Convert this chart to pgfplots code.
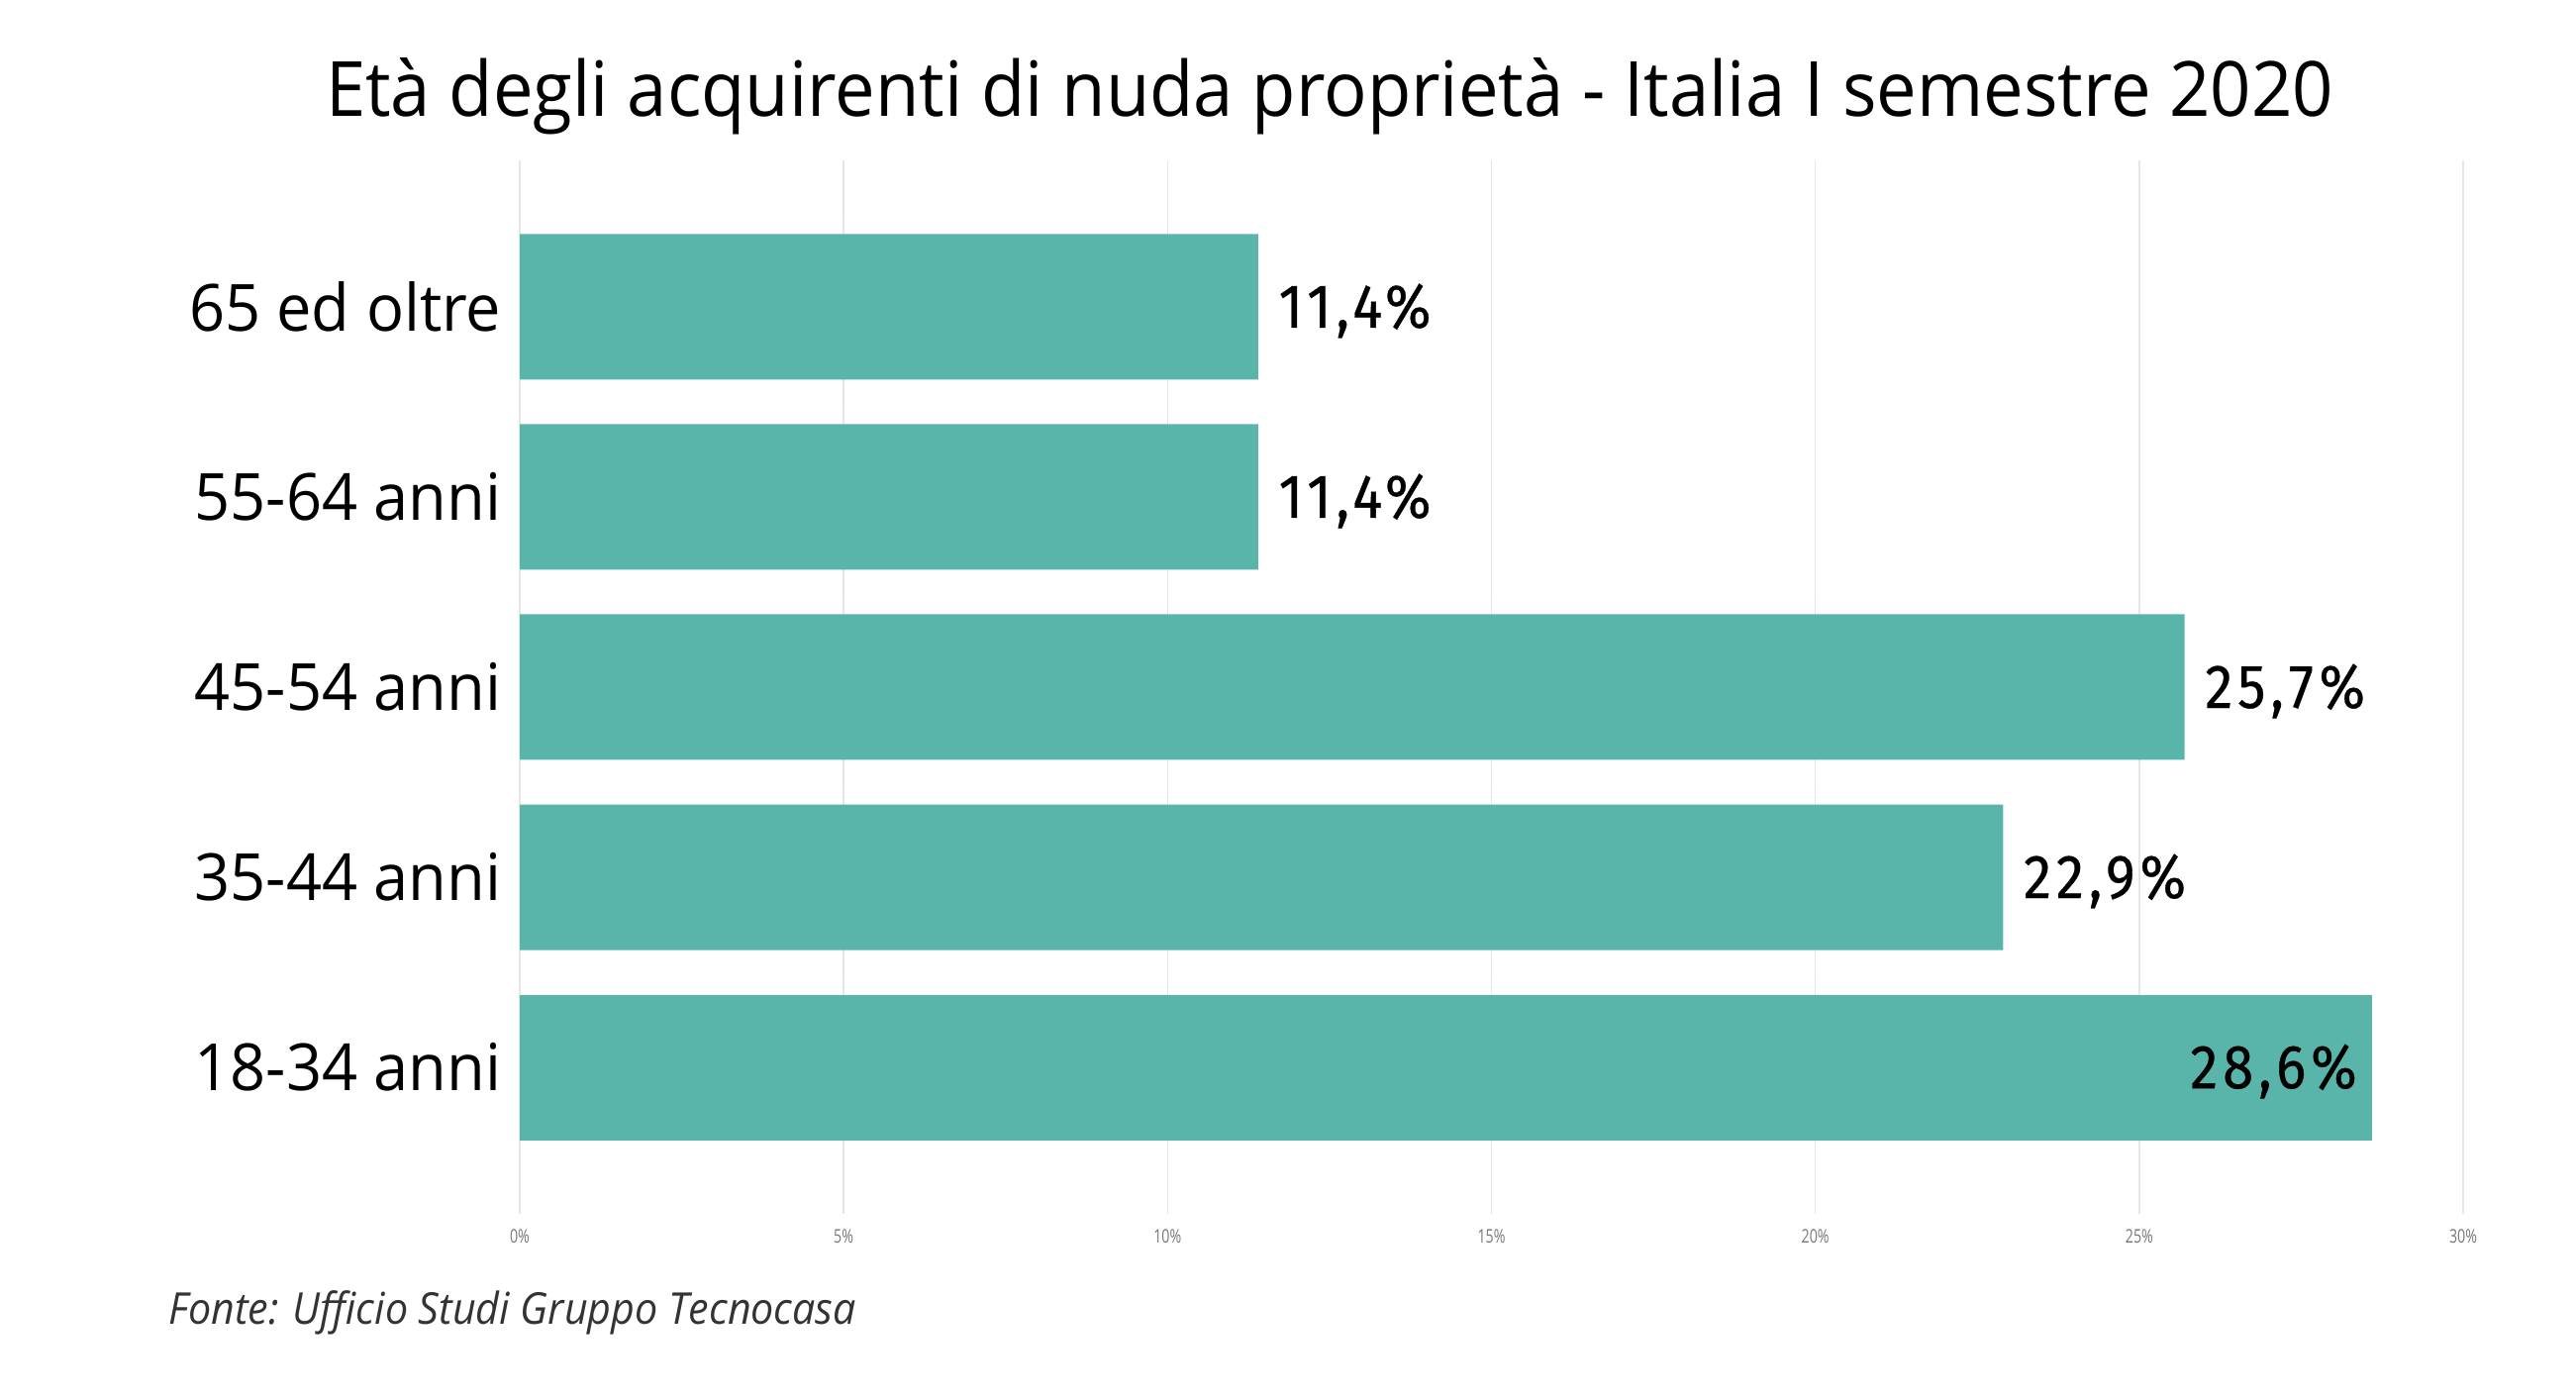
\documentclass[border=0pt]{standalone}
\usepackage{fontspec}
\setmainfont{Open Sans}
\newfontfamily\titlefont[FakeStretch=0.94]{Open Sans}
\newfontfamily\catfont[FakeStretch=0.96]{Open Sans}
\newfontfamily\dinfont[FakeStretch=0.9,LetterSpace=8,FakeBold=0.5]{Fira Sans}
\newfontfamily\tickfont[FakeStretch=0.75]{Open Sans}
\newfontfamily\fontefont[FakeStretch=0.93]{Open Sans}
\usepackage{pgfplots}
\pgfplotsset{compat=1.18}
\definecolor{barteal}{HTML}{59B4A9}
\definecolor{gridgray}{HTML}{E6E6E6}
\definecolor{tickgray}{HTML}{777777}
\definecolor{fontegray}{HTML}{333333}
\begin{document}
\begin{tikzpicture}
\path[use as bounding box] (0,0) rectangle (26.02,14.12);
\begin{axis}[
  at={(5.25cm,1.86cm)}, anchor=south west,
  scale only axis, width=19.63cm, height=10.64cm,
  xbar, bar width=1.47cm, bar shift=0pt,
  xmin=0, xmax=30, ymin=-0.77, ymax=4.77,
  xtick={0,5,10,15,20,25,30},
  xticklabels={0\%,5\%,10\%,15\%,20\%,25\%,30\%},
  ytick={0,1,2,3,4},
  yticklabels={18-34 anni,35-44 anni,45-54 anni,55-64 anni,65 ed oltre},
  /pgf/number format/assume math mode=true,
  xmajorgrids, grid style={draw=gridgray, line width=0.45pt},
  axis line style={draw=none}, tick style={draw=none},
  major tick length=0pt,
  xticklabel style={font=\tickfont\fontsize{5.4}{6}\selectfont, text=tickgray, inner sep=0pt, anchor=center, yshift=-0.23cm},
  yticklabel style={font=\catfont\fontsize{18.7}{22}\selectfont, inner sep=0pt, anchor=east, xshift=-0.18cm},
  clip=false,
]
\addplot[fill=barteal, draw=none,
  nodes near coords={\pgfmathprintnumber[use comma,fixed,fixed zerofill,precision=1]{\pgfplotspointmeta}\%},
  every node near coord/.append style={font=\dinfont\fontsize{17.8}{20}\selectfont, inner sep=0pt, anchor=west, xshift=0.2cm, yshift=-0.04cm, text=black},
  point meta=x]
  coordinates {(22.9,1) (25.7,2) (11.4,3) (11.4,4)};
\addplot[fill=barteal, draw=none,
  nodes near coords={\pgfmathprintnumber[use comma,fixed,fixed zerofill,precision=1]{\pgfplotspointmeta}\%},
  every node near coord/.append style={font=\dinfont\fontsize{17.8}{20}\selectfont, inner sep=0pt, anchor=east, xshift=-0.15cm, yshift=-0.04cm, text=black},
  point meta=x]
  coordinates {(28.6,0)};
\end{axis}
\node[anchor=base, inner sep=0pt] at (13.43,12.94) {\titlefont\fontsize{21.9}{26}\selectfont Età degli acquirenti di nuda proprietà - Italia I semestre 2020};
\node[anchor=base west, inner sep=0pt, text=fontegray] at (1.70,0.75) {\fontefont\itshape\fontsize{12.6}{15}\selectfont Fonte: Ufficio Studi Gruppo Tecnocasa};
\end{tikzpicture}
\end{document}
